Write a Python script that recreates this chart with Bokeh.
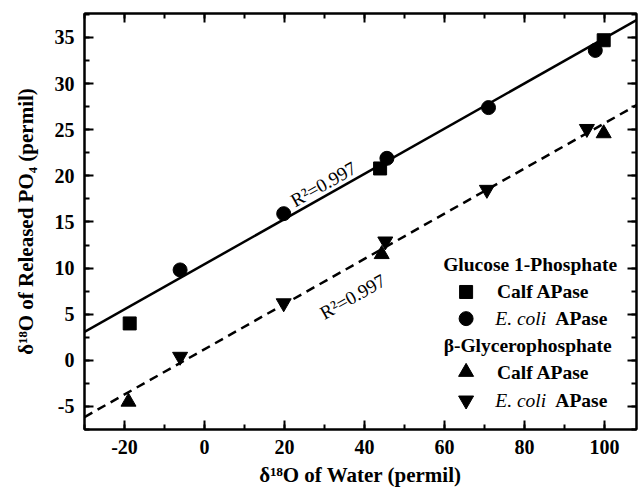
import numpy as np
from bokeh.plotting import figure
from bokeh.models import Range1d, LinearAxis, SingleIntervalTicker, Label, CustomJSTickFormatter
from bokeh.embed import file_html
from bokeh.resources import INLINE

# ---- data ----
g_calf_x = [-18.7, 43.9, 99.8]
g_calf_y = [4.0, 20.8, 34.7]
g_ecoli_x = [-6.1, 19.8, 45.6, 71.0, 97.7]
g_ecoli_y = [9.8, 15.9, 21.9, 27.4, 33.6]
b_calf_x = [-19.0, 44.3, 99.8]
b_calf_y = [-4.5, 11.5, 24.6]
b_ecoli_x = [-6.1, 19.8, 45.2, 70.6, 95.6]
b_ecoli_y = [0.4, 6.2, 12.9, 18.5, 25.1]
fit_slope = [0.245, 0.245]
fit_intercept = [10.42, 1.2]
r2_text = ["R\u00b2=0.997", "R\u00b2=0.997"]
x_title = "\u03b4\u00b9\u2078O of Water (permil)"
y_title = "\u03b4\u00b9\u2078O of Released PO\u2084 (permil)"
xlim = (-30, 108)
ylim = (-7.5, 37.6)

SERIF = "Liberation Serif"

p = figure(width=638, height=494, output_backend="svg", toolbar_location=None,
           x_range=Range1d(*xlim), y_range=Range1d(*ylim),
           x_axis_location=None, y_axis_location=None,
           min_border_left=84, min_border_right=2, min_border_top=13, min_border_bottom=65)
p.grid.visible = False
p.outline_line_color = "black"
p.outline_line_width = 2
p.background_fill_color = "white"
p.border_fill_color = "white"

hyphen_fmt = CustomJSTickFormatter(code="return String(tick);")
blank_fmt = CustomJSTickFormatter(code="return '';")

def make_axis(ticker_interval, label=None, show_labels=True):
    ax = LinearAxis(ticker=SingleIntervalTicker(interval=ticker_interval, num_minor_ticks=2))
    ax.axis_line_width = 2
    ax.axis_line_color = "black"
    ax.major_tick_in = 9
    ax.major_tick_out = 0
    ax.minor_tick_in = 5
    ax.minor_tick_out = 0
    ax.major_tick_line_width = 2
    ax.minor_tick_line_width = 2
    ax.major_label_text_font = SERIF
    ax.major_label_text_font_style = "bold"
    ax.major_label_text_font_size = "20px"
    ax.major_label_text_color = "black"
    ax.formatter = hyphen_fmt if show_labels else blank_fmt
    if not show_labels:
        ax.major_label_standoff = 0
    if label:
        ax.axis_label = label
        ax.axis_label_text_font = SERIF
        ax.axis_label_text_font_style = "bold"
        ax.axis_label_text_font_size = "21px"
        ax.axis_label_text_color = "black"
    return ax

xb = make_axis(20, x_title)
xb.major_label_standoff = 10
xb.axis_label_standoff = 6
yl = make_axis(5, y_title)
yl.major_label_standoff = 10
yl.axis_label_standoff = 14
xt = make_axis(20, show_labels=False)
yr = make_axis(5, show_labels=False)
p.add_layout(xb, "below")
p.add_layout(yl, "left")
p.add_layout(xt, "above")
p.add_layout(yr, "right")

# fit lines
xx = np.array(xlim, dtype=float)
p.line(xx, fit_slope[0] * xx + fit_intercept[0], line_color="black", line_width=2.5)
p.line(xx, fit_slope[1] * xx + fit_intercept[1], line_color="black", line_width=2.5,
       line_dash="9 6")

# points
p.scatter(g_calf_x, g_calf_y, marker="square", size=13, color="black")
p.scatter(g_ecoli_x, g_ecoli_y, marker="circle", size=14, color="black")
p.scatter(b_calf_x, b_calf_y, marker="triangle", size=15, color="black")
p.scatter(b_ecoli_x, b_ecoli_y, marker="inverted_triangle", size=15, color="black")

# R^2 labels along the lines
ang = np.arctan(fit_slope[0] * (9.22 / 4.0))
p.add_layout(Label(x=29.7, y=19.1, text=r2_text[0], angle=ang, text_align="center",
                   text_baseline="middle", text_font=SERIF, text_font_size="19px",
                   text_color="black"))
p.add_layout(Label(x=37.0, y=6.9, text=r2_text[1], angle=ang, text_align="center",
                   text_baseline="middle", text_font=SERIF, text_font_size="19px",
                   text_color="black"))

# legend (manual)
leg_mx = 65.4
rows = [10.41, 7.41, 4.52, 1.63, -1.27, -4.34]
def lab(x, y, text, style="bold", align="left"):
    p.add_layout(Label(x=x, y=y, text=text, text_align=align, text_baseline="middle",
                       text_font=SERIF, text_font_style=style, text_font_size="19.5px",
                       text_color="black"))

lab(81.4, rows[0], "Glucose 1-Phosphate", align="center")
p.scatter([leg_mx], [rows[1]], marker="square", size=13, color="black")
lab(73.1, rows[1], "Calf APase")
p.scatter([leg_mx], [rows[2]], marker="circle", size=14, color="black")
lab(72.7, rows[2], "E. coli", style="italic")
lab(87.7, rows[2], "APase")
lab(80.8, rows[3], "\u03b2-Glycerophosphate", align="center")
p.scatter([leg_mx], [rows[4]], marker="triangle", size=15, color="black")
lab(73.1, rows[4], "Calf APase")
p.scatter([leg_mx], [rows[5]], marker="inverted_triangle", size=15, color="black")
lab(72.7, rows[5], "E. coli", style="italic")
lab(87.7, rows[5], "APase")

open("out.html", "w").write(file_html(p, INLINE))
